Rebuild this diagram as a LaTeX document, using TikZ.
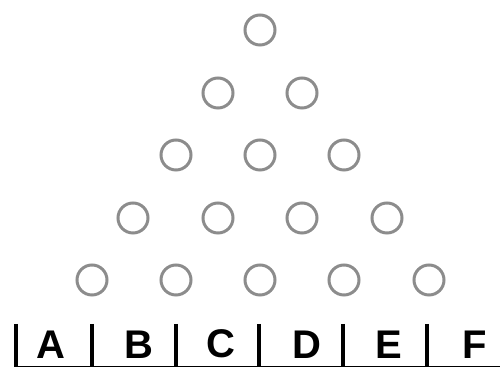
\documentclass[tikz,border=0pt]{standalone}
\usepackage{fontspec}
\setsansfont{Liberation Sans}
\usepackage{tikz}
\usetikzlibrary{positioning}

\begin{document}
\begin{tikzpicture}[x=0.5pt,y=-0.5pt,
   peg/.style={circle,draw=black!45,line width=1.5pt,minimum size=15pt,inner sep=0pt},
   bin/.style={font=\sffamily\bfseries\fontsize{20}{20}\selectfont,inner sep=0pt},
   wall/.style={line width=1.6pt}]
  \useasboundingbox (0,0) rectangle (500,368);
  % rows of pegs
  \node[peg] (p1) at (260,30) {};
  \node[peg] (p2) at (218,93) {};
  \node[peg] (p3) at (302,93) {};
  \node[peg] (p4) at (176,155) {};
  \node[peg] (p5) at (260,155) {};
  \node[peg] (p6) at (344,155) {};
  \node[peg] (p7) at (133,218) {};
  \node[peg] (p8) at (218,218) {};
  \node[peg] (p9) at (302,218) {};
  \node[peg] (p10) at (387,218) {};
  \node[peg] (p11) at (92,280) {};
  \node[peg] (p12) at (176,280) {};
  \node[peg] (p13) at (260,280) {};
  \node[peg] (p14) at (344,280) {};
  \node[peg] (p15) at (429,280) {};
  % bins
  \draw[wall] (16,324) -- (16,367);
  \draw[wall] (92,324) -- (92,367);
  \draw[wall] (176,324) -- (176,367);
  \draw[wall] (259,324) -- (259,367);
  \draw[wall] (343,324) -- (343,367);
  \draw[wall] (427,324) -- (427,367);
  \draw[line width=0.75pt] (15,366.5) -- (500,366.5);
  \node[bin] (bA) at (51,345) {A};
  \node[bin] (bB) at (139,345) {B};
  \node[bin] (bC) at (221,344) {C};
  \node[bin] (bD) at (307,345) {D};
  \node[bin] (bE) at (389,345) {E};
  \node[bin] (bF) at (475,345) {F};
\end{tikzpicture}
\end{document}
